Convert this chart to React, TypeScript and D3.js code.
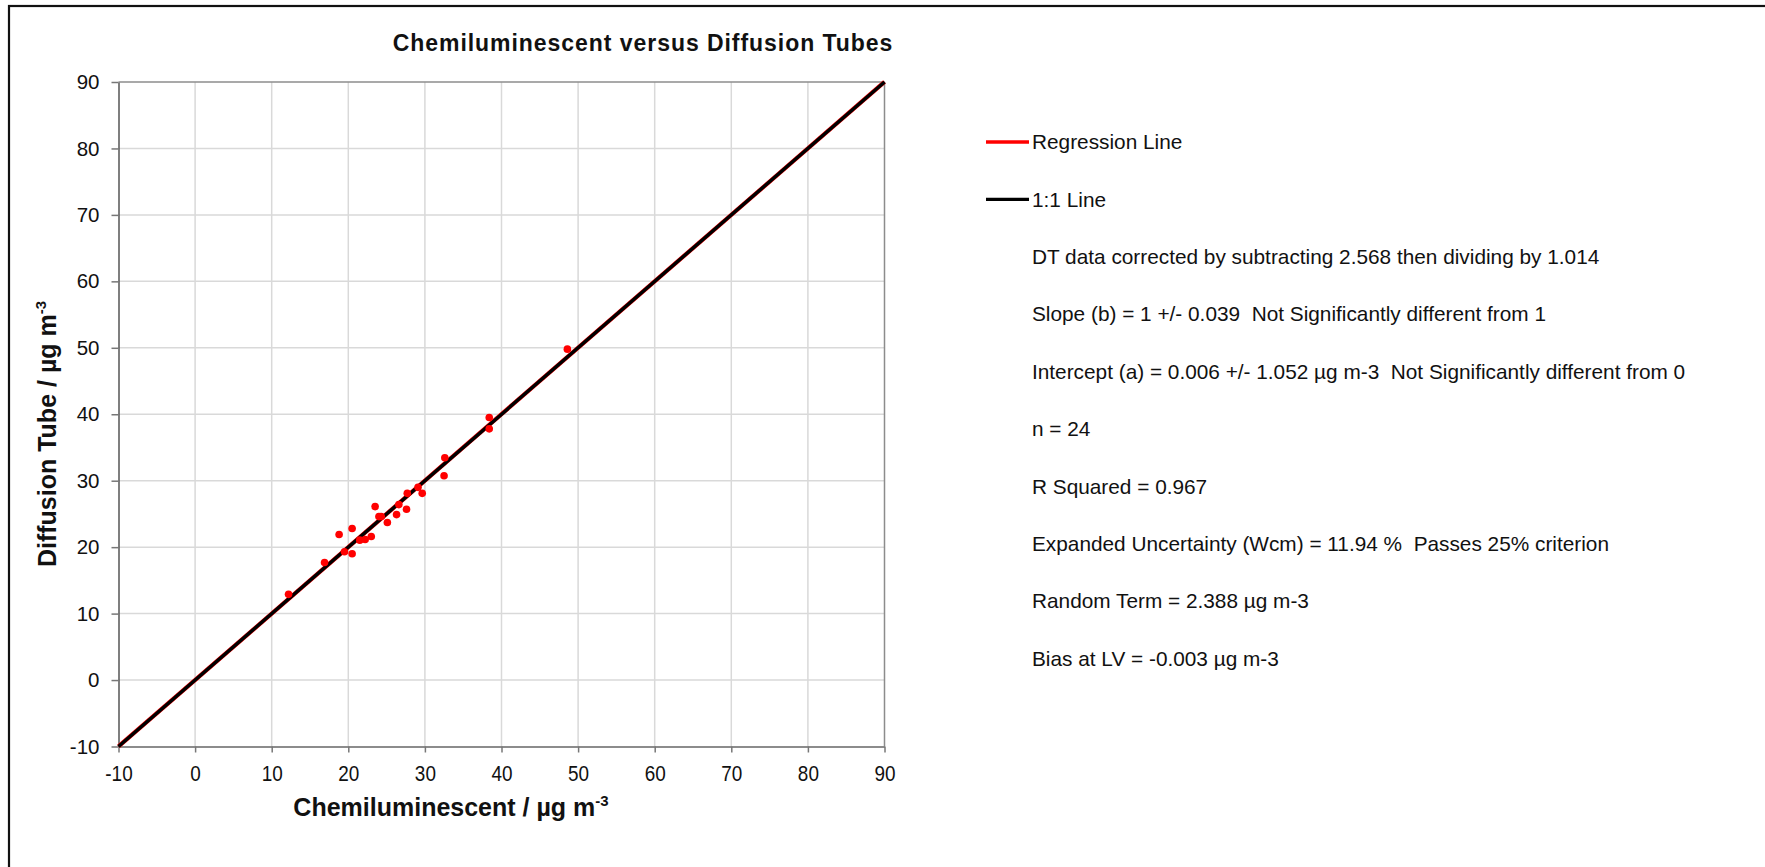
import React, { useEffect, useRef } from "react";
import * as d3 from "d3";

// values
const chemiluminescent = [12.2, 16.9, 18.8, 19.5, 20.5, 20.5, 21.5, 22.2, 23.0, 23.5, 24.0, 24.3, 25.1, 26.3, 26.6, 27.6, 27.7, 29.1, 29.65, 32.5, 32.6, 38.4, 38.4, 48.6];
const diffusionTube = [12.9, 17.7, 21.9, 19.3, 22.8, 19.0, 21.05, 21.15, 21.6, 26.1, 24.6, 24.6, 23.7, 24.9, 26.4, 25.7, 28.1, 29.0, 28.1, 30.75, 33.45, 37.8, 39.5, 49.8];
const axisTicks = [-10, 0, 10, 20, 30, 40, 50, 60, 70, 80, 90];
const regressionSlope = 1;
const regressionIntercept = 0.006;
const legendItems = [
  { label: "Regression Line", color: "#ff0000" },
  { label: "1:1 Line", color: "#000000" },
];
const statLines = [
  "DT data corrected by subtracting 2.568 then dividing by 1.014",
  "Slope (b) = 1 +/- 0.039  Not Significantly different from 1",
  "Intercept (a) = 0.006 +/- 1.052 µg m-3  Not Significantly different from 0",
  "n = 24",
  "R Squared = 0.967",
  "Expanded Uncertainty (Wcm) = 11.94 %  Passes 25% criterion",
  "Random Term = 2.388 µg m-3",
  "Bias at LV = -0.003 µg m-3",
];

const FONT = "'Liberation Sans', Arial, sans-serif";

const App = () => {
  const chartRef = useRef<SVGSVGElement>(null);

  useEffect(() => {
    const svg = d3.select(chartRef.current);
    svg.selectAll("*").remove();

    const plot = { left: 118.5, right: 884.5, top: 82, bottom: 746.5 };

    const x = d3.scaleLinear().domain([-10, 90]).range([plot.left, plot.right]);
    const y = d3.scaleLinear().domain([-10, 90]).range([plot.bottom, plot.top]);

    // outer frame (runs off the right and bottom of the picture)
    svg.append("rect")
      .attr("x", 9).attr("y", 6)
      .attr("width", 1800).attr("height", 900)
      .attr("fill", "white")
      .attr("stroke", "#111").attr("stroke-width", 2.2);

    // grid lines
    svg.append("g")
      .selectAll("line")
      .data(axisTicks.slice(1, -1))
      .enter()
      .append("line")
      .attr("x1", d => x(d)).attr("x2", d => x(d))
      .attr("y1", plot.top).attr("y2", plot.bottom)
      .attr("stroke", "#d9d9d9").attr("stroke-width", 1.5);

    svg.append("g")
      .selectAll("line")
      .data(axisTicks.slice(1, -1))
      .enter()
      .append("line")
      .attr("x1", plot.left).attr("x2", plot.right)
      .attr("y1", d => y(d)).attr("y2", d => y(d))
      .attr("stroke", "#d9d9d9").attr("stroke-width", 1.5);

    // plot frame
    svg.append("line")
      .attr("x1", plot.left).attr("x2", plot.right)
      .attr("y1", plot.top).attr("y2", plot.top)
      .attr("stroke", "#8c8c8c").attr("stroke-width", 1.5);
    svg.append("line")
      .attr("x1", plot.right).attr("x2", plot.right)
      .attr("y1", plot.top).attr("y2", plot.bottom)
      .attr("stroke", "#8c8c8c").attr("stroke-width", 1.5);

    const fmt = (d: any) => String(d);

    // y axis
    const yAxis = svg.append("g").attr("transform", `translate(${plot.left},0)`)
      .call(d3.axisLeft(y).tickValues(axisTicks).tickFormat(fmt).tickSize(7).tickSizeOuter(0).tickPadding(12));
    yAxis.select(".domain").attr("stroke", "#555").attr("stroke-width", 1.5);
    yAxis.selectAll(".tick line").attr("stroke", "#777").attr("stroke-width", 1.5);
    yAxis.selectAll(".tick text")
      .attr("fill", "#111")
      .style("font-family", FONT)
      .style("font-size", "20.5px");

    // x axis
    const xAxis = svg.append("g").attr("transform", `translate(0,${plot.bottom})`)
      .call(d3.axisBottom(x).tickValues(axisTicks).tickFormat(fmt).tickSize(6).tickSizeOuter(0).tickPadding(13));
    xAxis.select(".domain").attr("stroke", "#8c8c8c").attr("stroke-width", 2.2);
    xAxis.selectAll(".tick line").attr("stroke", "#777").attr("stroke-width", 1.5);
    xAxis.selectAll(".tick text")
      .attr("fill", "#111")
      .attr("transform", "scale(0.88,1)")
      .style("font-family", FONT)
      .style("font-size", "21.5px");

    // regression line under the 1:1 line
    const domain = x.domain();
    svg.append("line")
      .attr("x1", x(domain[0])).attr("y1", y(regressionSlope * domain[0] + regressionIntercept))
      .attr("x2", x(domain[1])).attr("y2", y(regressionSlope * domain[1] + regressionIntercept))
      .attr("stroke", "#ff0000").attr("stroke-width", 4.2);

    svg.append("line")
      .attr("x1", x(domain[0])).attr("y1", y(domain[0]))
      .attr("x2", x(domain[1])).attr("y2", y(domain[1]))
      .attr("stroke", "#000").attr("stroke-width", 3.4);

    // points
    svg.append("g")
      .selectAll("circle")
      .data(chemiluminescent)
      .enter()
      .append("circle")
      .attr("cx", d => x(d))
      .attr("cy", (d, i) => y(diffusionTube[i]))
      .attr("r", 3.8)
      .attr("fill", "#ff0000");

    // title
    svg.append("text")
      .attr("x", 643).attr("y", 51)
      .attr("text-anchor", "middle")
      .style("font-family", FONT)
      .style("font-size", "23px")
      .style("font-weight", "bold")
      .style("letter-spacing", "0.95px")
      .attr("fill", "#111")
      .text("Chemiluminescent versus Diffusion Tubes");

    // x axis title
    const xTitle = svg.append("text")
      .attr("x", 451).attr("y", 816)
      .attr("text-anchor", "middle")
      .style("font-family", FONT)
      .style("font-size", "25px")
      .style("font-weight", "bold")
      .attr("fill", "#111");
    xTitle.append("tspan").text("Chemiluminescent / µg m");
    xTitle.append("tspan").attr("dy", -10).style("font-size", "15px").text("-3");

    // y axis title
    const yTitle = svg.append("text")
      .attr("transform", `translate(56,${434}) rotate(-90)`)
      .attr("text-anchor", "middle")
      .style("font-family", FONT)
      .style("font-size", "25px")
      .style("font-weight", "bold")
      .attr("fill", "#111");
    yTitle.append("tspan").text("Diffusion Tube / µg m");
    yTitle.append("tspan").attr("dy", -10).style("font-size", "15px").text("-3");

    // legend
    const legend = svg.append("g")
      .selectAll("g")
      .data(legendItems)
      .enter()
      .append("g")
      .attr("transform", (d, i) => `translate(986,${142 + i * 57.4})`);
    legend.append("line")
      .attr("x1", 0).attr("x2", 43)
      .attr("stroke", d => d.color).attr("stroke-width", 3.4);
    legend.append("text")
      .attr("x", 46).attr("dy", "0.35em")
      .style("font-family", FONT)
      .style("font-size", "20.8px")
      .attr("fill", "#111")
      .text(d => d.label);

    // statistics block
    svg.append("g")
      .selectAll("text")
      .data(statLines)
      .enter()
      .append("text")
      .attr("x", 1032)
      .attr("y", (d, i) => 142 + (i + 2) * 57.4)
      .attr("dy", "0.35em")
      .style("font-family", FONT)
      .style("font-size", "20.8px")
      .style("white-space", "pre")
      .attr("fill", "#111")
      .text(d => d);
  }, []);

  return (
    <svg
      ref={chartRef}
      width="1765"
      height="867"
      style={{ position: "absolute", left: 0, top: 0, background: "white" }}
    ></svg>
  );
};

export default App;
